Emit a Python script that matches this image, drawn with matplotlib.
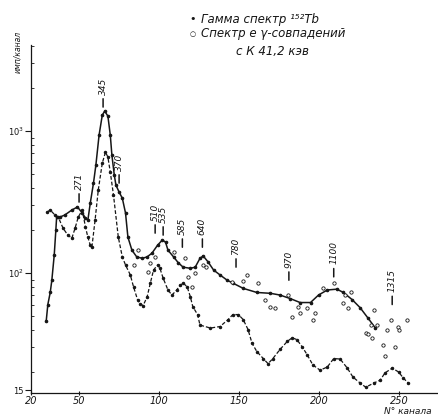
import matplotlib
matplotlib.use('Agg')
import matplotlib.pyplot as plt
from matplotlib.ticker import NullFormatter, LogLocator

# gamma spectrum (solid line)
ch_gamma = [29.5, 30.5, 32, 33, 34.5, 35.5, 36, 38, 41, 45.5,
            49, 52, 54, 55.5, 57, 59, 60.5, 62.5, 64.5, 66,
            68, 69.5, 70.5, 72, 73, 75, 77, 79, 80.5, 83,
            86, 89.5, 92.5, 95.5, 99, 102, 104, 105.5, 109, 112,
            115, 119.5, 122.5, 125.5, 127.5, 130.5, 134, 138, 142.5, 146,
            152.5, 161, 169.5, 175.5, 182, 188, 194.5, 199.5, 205, 211,
            215, 220.5, 225.5, 230.5, 235]
cnt_gamma = [46, 60, 73, 89, 134, 200, 248, 248, 256, 278,
             292, 265, 244, 236, 311, 430, 576, 937, 1296, 1383,
             1275, 937, 677, 490, 417, 372, 337, 265, 179, 145,
             130, 127, 130, 138, 157, 171, 165, 145, 130, 118,
             110, 108, 110, 127, 132, 120, 105, 97, 89, 85,
             78, 73, 72, 70, 66, 62, 62, 70, 76, 77,
             73, 65, 57, 48, 41]

# coincidence spectrum (dashed line)
ch_coinc = [30, 32, 35, 37, 40, 43, 45.5, 47.5, 49.5, 52,
            54, 55.5, 57, 58, 60, 62, 64.5, 66.5, 68, 69.5,
            71.5, 74.5, 77, 79, 82, 84, 86.5, 88, 90, 92.5,
            94.5, 96.5, 99, 100.5, 102.5, 105.5, 108, 111, 113, 115,
            117.5, 119.5, 121, 124, 125.5, 132, 138, 143, 146, 149.5,
            152.5, 155.5, 158, 161, 165, 168, 171, 175.5, 180, 183,
            186, 189.5, 192.5, 196, 200.5, 205, 209, 213, 217.5, 221,
            225.5, 229, 234, 238, 241, 245.5, 249.5, 252.5, 255.5]
cnt_coinc = [269, 278, 256, 248, 207, 185, 176, 207, 248, 278,
             211, 179, 157, 152, 236, 385, 595, 711, 656, 514,
             354, 179, 130, 114, 97, 80, 65, 61, 59, 68,
             85, 105, 114, 108, 92, 76, 70, 76, 82, 85,
             80, 68, 58, 51, 43, 41, 42, 47, 51, 51,
             47, 40, 32, 28, 25, 23, 25, 29, 33, 35,
             34, 30, 26.5, 22.5, 20.7, 21.8, 25, 24.8, 21.4, 18.5,
             16.8, 15.7, 16.8, 17.6, 19.8, 21.4, 20.1, 18.2, 16.8]

# scattered open points
ch_open = [84, 87, 93, 94.5, 97.5, 109, 116, 118, 120.5, 122.5,
           127.5, 129, 145.5, 152.5, 155, 162, 166, 169.5, 172.5, 180.5,
           183, 187, 188, 192.5, 196, 197.5, 202, 209, 215, 216,
           218, 219.5, 229, 230.5, 232, 233, 234, 236, 239.5, 241,
           242.5, 244.5, 247.5, 249, 249.5, 255]
cnt_open = [114, 145, 102, 118, 130, 140, 127, 94, 80, 100,
            114, 110, 86, 88, 97, 85, 65, 58, 57, 70,
            49, 58, 52, 57, 47, 52, 78, 85, 62, 70,
            57, 73, 38, 37, 43, 35, 55, 43, 31, 26,
            40, 47, 30, 42, 40, 47]

# peak labels (keV), channel and level of the marker
peak_kev = ['271', '345', '370', '510', '535', '585', '640', '780', '970', '1100', '1315']
peak_ch = [50, 65, 75, 97.5, 102.5, 114.5, 127, 148, 181, 209, 245.5]
peak_cnt = [316, 1476, 430, 191, 185, 152, 152, 110, 89, 94, 60]

x_ticks = [20, 50, 100, 150, 200, 250]
x_labels = ['20', '50', '100', '150', '200', '250']
y_ticks = [15, 100, 1000]
y_labels = ['15', '$10^2$', '$10^3$']

ink = '#161616'

fig = plt.figure(figsize=(4.38, 4.17), dpi=100)
ax = fig.add_axes([0.0708, 0.0576, 0.927, 0.8345])

ax.plot(ch_gamma, cnt_gamma, '-', color=ink, lw=1.1, marker='o', ms=1.6)
ax.plot(ch_coinc, cnt_coinc, color=ink, lw=0.9, ls=(0, (3, 1.6)), marker='o', ms=1.5)
ax.plot(ch_open, cnt_open, 'o', ms=2.4, mfc='white', mec=ink, mew=0.6)

for lab, c, v in zip(peak_kev, peak_ch, peak_cnt):
    ax.annotate('', xy=(c, v), xytext=(0, 6), textcoords='offset points',
                arrowprops=dict(arrowstyle='-', lw=1.1, color=ink, shrinkA=0, shrinkB=0))
    ax.annotate(lab, xy=(c, v), xytext=(0, 9), textcoords='offset points',
                rotation=90, ha='center', va='bottom', fontsize=6.5, style='italic', color=ink)

ax.set_yscale('log')
ax.set_xlim(20, 273.5)
ax.set_ylim(14.3, 4040)

ax.set_xticks(x_ticks, x_labels, fontsize=7, style='italic', color=ink)
ax.set_yticks(y_ticks, y_labels, fontsize=6, color=ink)
ax.yaxis.set_minor_locator(LogLocator(base=10, subs=(2, 3, 4, 5, 6, 7, 8, 9)))
ax.yaxis.set_minor_formatter(NullFormatter())
ax.tick_params(axis='x', direction='inout', length=3, width=0.8, pad=1, colors=ink)
ax.tick_params(axis='y', which='major', direction='out', length=4, width=0.8, pad=1, colors=ink)
ax.tick_params(axis='y', which='minor', direction='in', length=2, width=0.6, colors=ink)

for s in ['top', 'right']:
    ax.spines[s].set_visible(False)
for s in ['left', 'bottom']:
    ax.spines[s].set_linewidth(0.9)
    ax.spines[s].set_color(ink)

fig.text(18 / 438, 1 - 52 / 417, 'имп/канал', rotation=90, ha='center', va='center',
         fontsize=5.5, style='italic', color=ink)
fig.text(408 / 438, 1 - 412 / 417, 'N° канала', ha='center', va='center',
         fontsize=6.5, style='italic', color=ink)

fig.text(193 / 438, 1 - 19 / 417, '•', ha='center', va='center', fontsize=8, color=ink)
fig.text(193 / 438, 1 - 34 / 417, '○', ha='center', va='center', fontsize=5, color=ink)
fig.text(201 / 438, 1 - 19 / 417, 'Гамма спектр ¹⁵²Tb', ha='left', va='center',
         fontsize=8.5, style='italic', color=ink)
fig.text(201 / 438, 1 - 34 / 417, 'Спектр е γ-совпадений', ha='left', va='center',
         fontsize=8.5, style='italic', color=ink)
fig.text(272 / 438, 1 - 51 / 417, 'с К 41,2 кэв', ha='center', va='center',
         fontsize=8.5, style='italic', color=ink)

fig.savefig('out.png', dpi=100, facecolor='white')
